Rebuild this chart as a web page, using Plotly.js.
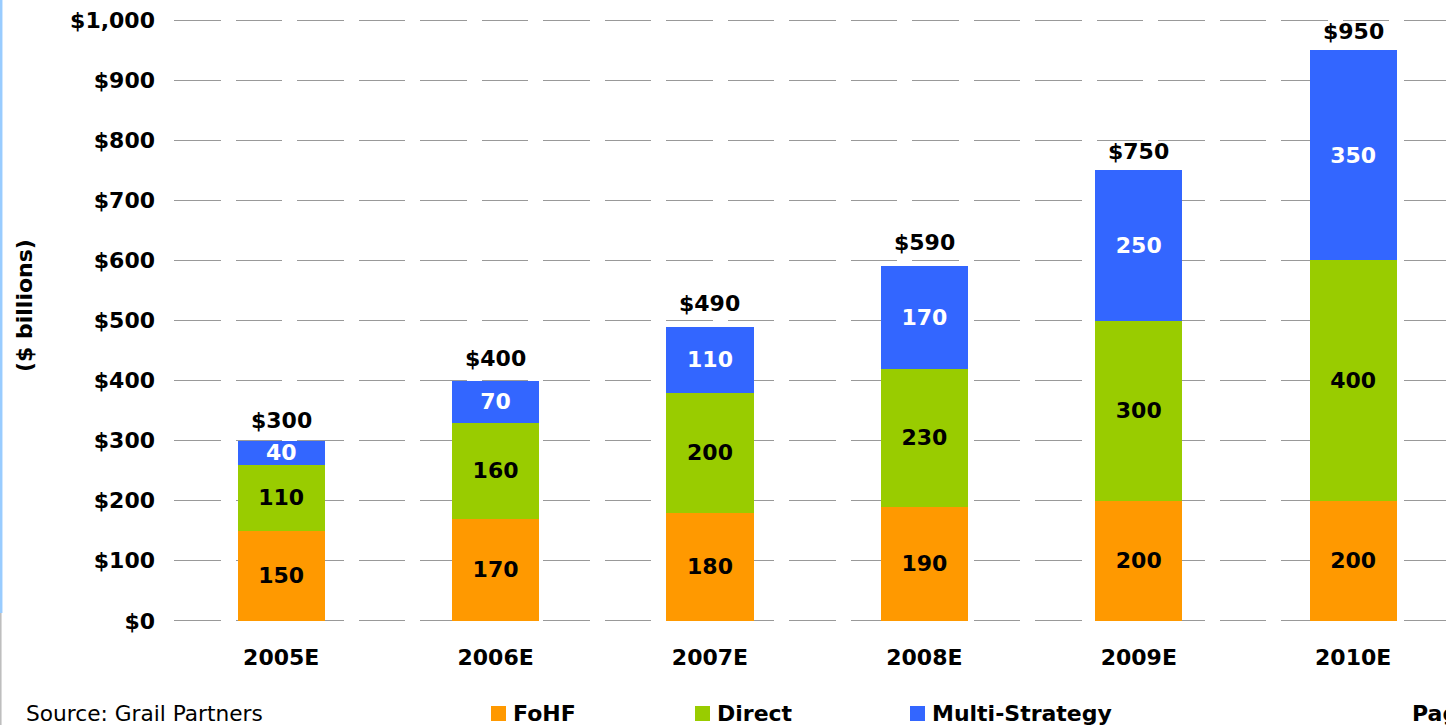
<!DOCTYPE html>
<html>
<head>
<meta charset="utf-8">
<script src="https://cdn.plot.ly/plotly-3.0.1.min.js"></script>
<style>
  html, body { margin: 0; padding: 0; background: #ffffff; }
  #chart { width: 1446px; height: 725px; }
</style>
</head>
<body>
<div id="chart"></div>
<script>
// ---- data ----
const years = ["2005E", "2006E", "2007E", "2008E", "2009E", "2010E"];
const fohf = [150, 170, 180, 190, 200, 200];
const direct = [110, 160, 200, 230, 300, 400];
const multiStrategy = [40, 70, 110, 170, 250, 350];
const seriesNames = ["FoHF", "Direct", "Multi-Strategy"];
const yTicks = [0, 100, 200, 300, 400, 500, 600, 700, 800, 900, 1000];
const sourceText = "Source: Grail Partners";
const yTitle = "($ billions)";

const totals = years.map((_, i) => fohf[i] + direct[i] + multiStrategy[i]);

// ---- styles ----
const FONT = "DejaVu Sans, Verdana, sans-serif";
const colors = ["#FF9900", "#99CC00", "#3366FF"];
const textColors = ["#000000", "#000000", "#ffffff"];
const legendSwatchLeft = [491, 695, 910];          // px, legend swatch left edges
const totalLabelShift = [20, 22, 23, 23.5, 19, 19]; // px gap of total labels above bars
const W = 1446, H = 725;
const M = { l: 174, r: 0, t: 19, b: 103 };
const plotW = W - M.l - M.r, plotH = H - M.t - M.b;
const px2x = p => (p - M.l) / plotW;          // paper x from pixel
const py2y = p => (H - M.b - p) / plotH;      // paper y from pixel

const seriesData = [fohf, direct, multiStrategy];
const traces = seriesData.map((vals, k) => ({
  type: "bar",
  name: seriesNames[k],
  x: years,
  y: vals,
  marker: { color: colors[k], line: { width: 0 } },
  text: vals.map(String),
  textposition: "inside",
  insidetextanchor: "middle",
  constraintext: "none",
  textangle: 0,
  textfont: { family: FONT, size: 22, color: textColors[k], weight: "bold" },
  showlegend: false,
  hoverinfo: "skip"
}));

const annotations = years.map((yr, i) => ({
  x: yr, y: totals[i], xref: "x", yref: "y",
  text: "$" + totals[i],
  showarrow: false,
  xanchor: "center", yanchor: "middle",
  yshift: totalLabelShift[i],
  font: { family: FONT, size: 22, color: "#000000", weight: "bold" }
}));

annotations.push({
  xref: "paper", yref: "paper",
  x: px2x(24), y: py2y(306),
  text: yTitle, textangle: -90, showarrow: false,
  xanchor: "center", yanchor: "middle",
  font: { family: FONT, size: 22, color: "#000000", weight: "bold" }
});
annotations.push({
  xref: "paper", yref: "paper",
  x: px2x(24), y: py2y(713),
  text: sourceText, showarrow: false,
  xanchor: "left", yanchor: "middle",
  font: { family: FONT, size: 21.7, color: "#000000" }
});
annotations.push({
  xref: "paper", yref: "paper",
  x: px2x(1410), y: py2y(713),
  text: "Page", showarrow: false,
  xanchor: "left", yanchor: "middle",
  font: { family: FONT, size: 22, color: "#000000", weight: "bold" }
});

// legend (swatch + label), laid out along the bottom
const shapes = [
  { type: "line", xref: "paper", yref: "paper",
    x0: px2x(1.2), x1: px2x(1.2), y0: py2y(0), y1: py2y(613),
    line: { color: "#99CCFF", width: 2.5 } },
  { type: "line", xref: "paper", yref: "paper",
    x0: px2x(0.8), x1: px2x(0.8), y0: py2y(613), y1: py2y(725),
    line: { color: "#BBBBBB", width: 1.5 } }
];
seriesNames.forEach((name, k) => {
  const left = legendSwatchLeft[k];
  shapes.push({
    type: "rect", xref: "paper", yref: "paper",
    x0: px2x(left), x1: px2x(left + 15),
    y0: py2y(721), y1: py2y(706),
    fillcolor: colors[k], line: { width: 0 }
  });
  annotations.push({
    xref: "paper", yref: "paper",
    x: px2x(left + 19.5), y: py2y(713.5),
    text: name, showarrow: false,
    xanchor: "left", yanchor: "middle",
    font: { family: FONT, size: 22, color: "#000000", weight: "bold" }
  });
});

const layout = {
  width: W, height: H,
  margin: M,
  paper_bgcolor: "#ffffff",
  plot_bgcolor: "#ffffff",
  barmode: "stack",
  bargap: 0.594,
  showlegend: false,
  xaxis: {
    type: "category",
    range: [-0.5, 5.433],
    showgrid: false, zeroline: false, showline: false,
    ticks: "",
    ticklabelstandoff: 20,
    tickfont: { family: FONT, size: 22, color: "#000000", weight: "bold" },
    fixedrange: true
  },
  yaxis: {
    range: [-2, 1002],
    tickvals: yTicks,
    ticktext: yTicks.map(v => "$" + v.toLocaleString("en-US")),
    showgrid: true,
    gridcolor: "#999999",
    gridwidth: 1,
    griddash: "46.5px,15px",
    zeroline: false, showline: false,
    ticks: "",
    ticklabelstandoff: 18,
    tickfont: { family: FONT, size: 22, color: "#000000", weight: "bold" },
    fixedrange: true
  },
  annotations: annotations,
  shapes: shapes,
  font: { family: FONT }
};

Plotly.newPlot("chart", traces, layout, { displayModeBar: false, staticPlot: true });
</script>
</body>
</html>
